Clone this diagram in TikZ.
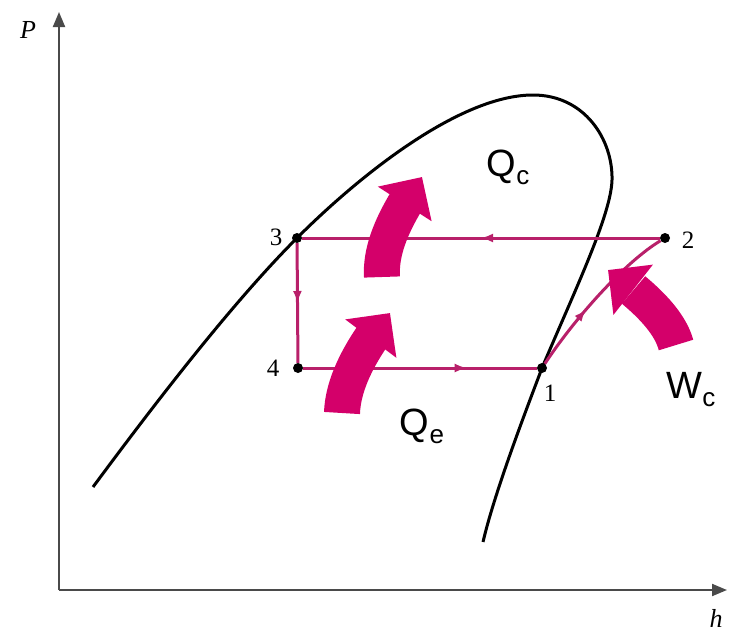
\documentclass[tikz,border=0pt]{standalone}
\usepackage{fontspec}
\setmainfont{Liberation Serif}
\newfontfamily\qfont{Liberation Sans}
\usepackage{tikz}
\usetikzlibrary{arrows.meta,bending,decorations.markings}
\definecolor{cyclepink}{HTML}{B8206A}
\definecolor{heatpink}{HTML}{D4006A}
\definecolor{axisgray}{HTML}{4A4A4A}
\newcommand{\heat}[2]{{\qfont\fontsize{38}{38}\selectfont #1\raisebox{-8pt}{\fontsize{26}{26}\selectfont #2}}}
\tikzset{
  axisline/.style={draw=axisgray, line width=2pt, -{Triangle[length=15pt,width=12pt]}},
  domeline/.style={draw=black, line width=3pt},
  statedot/.style={circle, fill=black, inner sep=0pt, minimum size=10pt},
  statelabel/.style={font=\fontsize{25}{25}\selectfont, inner sep=1pt},
  axislabel/.style={font=\itshape\fontsize{26}{26}\selectfont, inner sep=0pt},
  cycleline/.style={draw=cyclepink, line width=3pt, postaction={decorate},
    decoration={markings, mark=at position #1 with {\arrow{Latex[length=12pt,width=9pt]}}}},
  heatarrow/.style={draw=heatpink, line width=36pt,
    -{Triangle[width=62pt,length=32pt,flex]}},
  heatlabel/.style={inner sep=0pt},
}
\begin{document}
\begin{tikzpicture}[x=1pt, y=-1pt]
  \useasboundingbox (0,0) rectangle (730,635);

  % axes
  \coordinate (origin) at (59,590);
  \coordinate (ptop) at (59,12);
  \coordinate (hend) at (727,590);
  \draw[axisline] (origin) -- (ptop);
  \draw[axisline] (origin) -- (hend);
  \node[axislabel] (plabel) at (28,30) {P};
  \node[axislabel] (hlabel) at (716,618) {h};

  % saturation dome
  \draw[domeline] (93,487) .. controls (150,410) and (230,305) .. (297,238)
    .. controls (360,175) and (460,95) .. (533,95)
    .. controls (585,95) and (613,140) .. (612,180)
    .. controls (611,215) and (575,290) .. (542,368)
    .. controls (530,400) and (495,490) .. (483,542);

  % states
  \node[statedot] (p1) at (542,368) {};
  \node[statedot] (p2) at (665,238) {};
  \node[statedot] (p3) at (297,238) {};
  \node[statedot] (p4) at (298,368) {};
  \node[statelabel] (l1) at (550,393) {1};
  \node[statelabel] (l2) at (688,240) {2};
  \node[statelabel] (l3) at (276,237) {3};
  \node[statelabel] (l4) at (273,368) {4};

  % cycle
  \draw[cycleline=0.5] (p2) -- (p3);
  \draw[cycleline=0.5] (p3) -- (p4);
  \draw[cycleline=0.7] (p4) -- (p1);
  \draw[cycleline=0.4] (p1) .. controls (575,318) and (625,262) .. (p2);

  % heat and work
  \coordinate (qcbase) at (382,277);
  \coordinate (qctip) at (422,177);
  \coordinate (qebase) at (342,413);
  \coordinate (qetip) at (390,313);
  \coordinate (wcbase) at (676,345);
  \coordinate (wctip) at (608,270);
  \draw[heatarrow] (qcbase) .. controls (380,245) and (398,212) .. (qctip);
  \draw[heatarrow] (qebase) .. controls (343,382) and (362,347) .. (qetip);
  \draw[heatarrow] (wcbase) .. controls (668,315) and (632,288) .. (wctip);

  \node[heatlabel] (qc) at (508,167) {\heat{Q}{c}};
  \node[heatlabel] (qe) at (422,426) {\heat{Q}{e}};
  \node[heatlabel] (wc) at (691,390) {\heat{W}{c}};
\end{tikzpicture}
\end{document}
